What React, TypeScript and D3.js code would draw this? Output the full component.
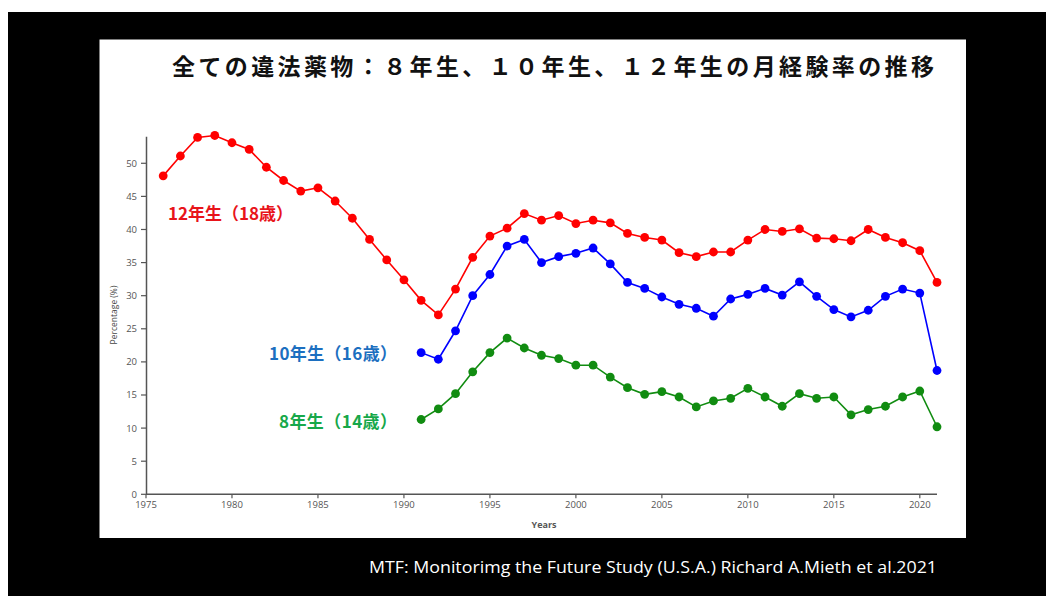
import React from "react";
import * as d3 from "d3";

const years12 = d3.range(1976, 2022);
const grade12 = [48.1, 51.1, 53.9, 54.2, 53.1, 52.1, 49.4, 47.4, 45.8, 46.3, 44.3, 41.7, 38.5, 35.4, 32.4, 29.3, 27.1, 31.0, 35.8, 39.0, 40.2, 42.4, 41.4, 42.1, 40.9, 41.4, 41.0, 39.4, 38.8, 38.4, 36.5, 35.9, 36.6, 36.6, 38.4, 40.0, 39.7, 40.1, 38.7, 38.6, 38.3, 40.0, 38.8, 38.0, 36.8, 32.0];
const years10 = d3.range(1991, 2022);
const grade10 = [21.4, 20.4, 24.7, 30.0, 33.2, 37.5, 38.5, 35.0, 35.9, 36.4, 37.2, 34.8, 32.0, 31.1, 29.8, 28.7, 28.1, 26.9, 29.5, 30.2, 31.1, 30.1, 32.1, 29.9, 27.9, 26.8, 27.8, 29.9, 31.0, 30.4, 18.7];
const years8 = d3.range(1991, 2022);
const grade8 = [11.3, 12.9, 15.2, 18.5, 21.4, 23.6, 22.1, 21.0, 20.5, 19.5, 19.5, 17.7, 16.1, 15.1, 15.5, 14.7, 13.2, 14.1, 14.5, 16.0, 14.7, 13.3, 15.2, 14.5, 14.7, 12.0, 12.8, 13.3, 14.7, 15.6, 10.2];

const xTicks = [1975, 1980, 1985, 1990, 1995, 2000, 2005, 2010, 2015, 2020];
const yTicks = [0, 5, 10, 15, 20, 25, 30, 35, 40, 45, 50];

const title = "全ての違法薬物：８年生、１０年生、１２年生の月経験率の推移";
const label12 = "12年生（18歳）";
const label10 = "10年生（16歳）";
const label8 = "8年生（14歳）";
const caption = "MTF: Monitorimg the Future Study (U.S.A.) Richard A.Mieth  et al.2021";

const series = [
  { years: years12, values: grade12, color: "#ff0000" },
  { years: years10, values: grade10, color: "#0000ff" },
  { years: years8, values: grade8, color: "#118c11" },
];

export default function App() {
  const x = d3.scaleLinear().domain([1975, 2021]).range([146, 937]);
  const y = d3.scaleLinear().domain([0, 54]).range([494.3, 136.8]);
  const axisColor = "#555";
  const tickFont = "'Open Sans', 'DejaVu Sans', sans-serif";
  const jp = "'Noto Sans CJK JP', sans-serif";
  return (
    <svg
      width={1046}
      height={596}
      style={{ position: "absolute", left: 0, top: 0, display: "block" }}
    >
      <rect x={0} y={0} width={1046} height={596} fill="#ffffff" />
      <rect x={8} y={12} width={1038} height={584} fill="#000000" />
      <rect x={99.5} y={39.5} width={866.5} height={498.5} fill="#ffffff" />
      <text
        x={172}
        y={75}
        fontFamily={jp}
        fontWeight="bold"
        fontSize={23}
        fill="#111"
        textLength={762}
        lengthAdjust="spacing"
      >
        {title}
      </text>

      {/* axes */}
      <line x1={146.5} x2={146.5} y1={y(54)} y2={y(0)} stroke={axisColor} strokeWidth={1.5} />
      <line x1={146} x2={x(2021)} y1={y(0)} y2={y(0)} stroke={axisColor} strokeWidth={1.5} />
      {yTicks.map((t) => (
        <g key={"y" + t}>
          <line x1={141} x2={146.5} y1={y(t)} y2={y(t)} stroke={axisColor} strokeWidth={1.2} />
          <text x={137} y={y(t) + 3.5} textAnchor="end" fontFamily={tickFont} fontSize={9.5} fill="#555">
            {t}
          </text>
        </g>
      ))}
      {xTicks.map((t) => (
        <g key={"x" + t}>
          <line x1={x(t)} x2={x(t)} y1={y(0)} y2={y(0) + 4} stroke={axisColor} strokeWidth={1.2} />
          <text x={x(t)} y={y(0) + 13.5} textAnchor="middle" fontFamily={tickFont} fontSize={9.5} fill="#555">
            {t}
          </text>
        </g>
      ))}
      <text x={544} y={528} textAnchor="middle" fontFamily={tickFont} fontWeight="bold" fontSize={9} fill="#555">
        Years
      </text>
      <text
        transform={`translate(117,315) rotate(-90)`}
        textAnchor="middle"
        fontFamily={tickFont}
        fontSize={8.5}
        fill="#444"
      >
        Percentage (%)
      </text>

      {series.map((s, i) => {
        const line = d3
          .line<number>()
          .x((_, j) => x(s.years[j]))
          .y((v) => y(v));
        return (
          <g key={"s" + i}>
            <path d={line(s.values) || ""} fill="none" stroke={s.color} strokeWidth={1.6} />
            {s.values.map((v, j) => (
              <circle key={j} cx={x(s.years[j])} cy={y(v)} r={4.4} fill={s.color} />
            ))}
          </g>
        );
      })}

      <text x={168} y={220} fontFamily={jp} fontWeight="bold" fontSize={17} fill="#e8141a" textLength={125} lengthAdjust="spacing">
        {label12}
      </text>
      <text x={269} y={360} fontFamily={jp} fontWeight="bold" fontSize={17} fill="#1c6fc0" textLength={128} lengthAdjust="spacing">
        {label10}
      </text>
      <text x={279} y={428} fontFamily={jp} fontWeight="bold" fontSize={17} fill="#17a84a" textLength={118} lengthAdjust="spacing">
        {label8}
      </text>

      <text
        x={369}
        y={573}
        fontFamily="'Open Sans', sans-serif"
        fontSize={16}
        fill="#ffffff"
        textLength={568}
        lengthAdjust="spacingAndGlyphs"
      >
        {caption}
      </text>
    </svg>
  );
}
